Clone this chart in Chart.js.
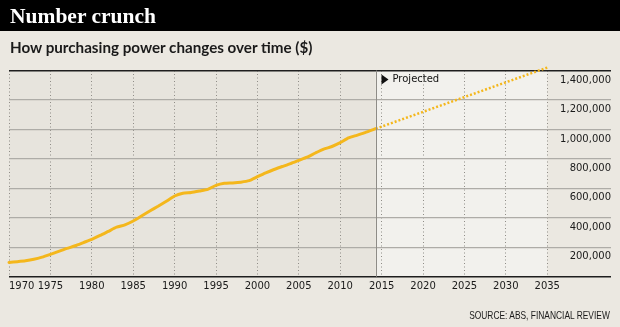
<!DOCTYPE html>
<html>
<head>
<meta charset="utf-8">
<script src="https://cdn.jsdelivr.net/npm/chart.js@4/dist/chart.umd.min.js"></script>
<style>
  html, body { margin: 0; padding: 0; background: #ebe8e1; }
  #wrap { position: relative; width: 620px; height: 327px; overflow: hidden; }
  #bar { position: absolute; left: 0; top: 0; width: 620px; height: 31px; background: #000; }
  #title { position: absolute; left: 10px; top: 4px; color: #fff;
           font: bold 21.5px "Liberation Serif", serif; }
  #subtitle { position: absolute; left: 10px; top: 38px; color: #1a1a1a;
              font: bold 15.2px Lato, sans-serif; }
  #source { position: absolute; right: 10px; top: 309px; color: #1a1a1a;
            font: 10.5px "Liberation Sans", sans-serif;
            transform: scaleX(0.8); transform-origin: right center; }
  canvas { position: absolute; left: 0; top: 0; }
</style>
</head>
<body>
<div id="wrap">
  <canvas id="c" width="620" height="327"></canvas>
  <div id="bar"></div>
  <div id="title">Number crunch</div>
  <div id="subtitle">How purchasing power changes over time ($)</div>
  <div id="source">SOURCE: ABS, FINANCIAL REVIEW</div>
</div>
<script>
// Recorded purchasing power, 1970 to mid-2014 ($)
const historyYears = [1970, 1971, 1972, 1973, 1974, 1975, 1976, 1977, 1978, 1979,
  1980, 1981, 1982, 1983, 1984, 1985, 1986, 1987, 1988, 1989,
  1990, 1991, 1992, 1993, 1994, 1995, 1996, 1997, 1998, 1999,
  2000, 2001, 2002, 2003, 2004, 2005, 2006, 2007, 2008, 2009,
  2010, 2011, 2012, 2013, 2014.3];
const historyValues = [97000, 102000, 108000, 118000, 133000, 152000, 172000, 192000, 210000, 232000,
  254000, 280000, 308000, 336000, 352000, 378000, 412000, 446000, 478000, 512000,
  548000, 566000, 572000, 582000, 593000, 620000, 634000, 637000, 642000, 652000,
  679000, 705000, 728000, 748000, 768000, 790000, 812000, 840000, 866000, 884000,
  910000, 942000, 960000, 978000, 1005000];

// Projection out to 2035
const projectedYears = [2014.3, 2035];
const projectedValues = [1005000, 1420000];

// Axis settings
const firstYear = 1970;
const lastYear = 2035;
const yearStep = 5;
const valueMax = 1400000;
const valueStep = 200000;
const projectedLabel = 'Projected';

const toPoints = (xs, ys) => xs.map((x, i) => ({ x, y: ys[i] }));

// Shaded history / projection panels, divider and the "Projected" note
const panels = {
  id: 'panels',
  beforeDraw(chart) {
    const { ctx, chartArea: a, scales: { x } } = chart;
    const xStart = x.getPixelForValue(firstYear);
    const xSplit = x.getPixelForValue(projectedYears[0]);
    const xEnd = x.getPixelForValue(lastYear);
    ctx.save();
    ctx.fillStyle = '#e7e4dd';
    ctx.fillRect(xStart, a.top, xSplit - xStart, a.bottom - a.top);
    ctx.fillStyle = '#f2f1ed';
    ctx.fillRect(xSplit, a.top, xEnd - xSplit, a.bottom - a.top);
    ctx.restore();
  },
  afterDatasetsDraw(chart) {
    const { ctx, chartArea: a, scales: { x } } = chart;
    const xSplit = Math.round(x.getPixelForValue(projectedYears[0])) + 0.5;
    ctx.save();
    ctx.strokeStyle = '#8e8c87';
    ctx.lineWidth = 1;
    ctx.beginPath();
    ctx.moveTo(xSplit, a.top);
    ctx.lineTo(xSplit, a.bottom);
    ctx.stroke();
    const tx = xSplit + 5;
    const ty = a.top + 9;
    ctx.fillStyle = '#111';
    ctx.beginPath();
    ctx.moveTo(tx, ty - 5);
    ctx.lineTo(tx + 7, ty);
    ctx.lineTo(tx, ty + 5);
    ctx.closePath();
    ctx.fill();
    ctx.font = '10px "DejaVu Sans"';
    ctx.textBaseline = 'middle';
    ctx.fillText(projectedLabel, tx + 11, ty);
    ctx.restore();
  }
};

new Chart(document.getElementById('c'), {
  type: 'line',
  data: {
    datasets: [
      {
        data: toPoints(historyYears, historyValues),
        borderColor: '#f4b71c',
        borderWidth: 3,
        pointRadius: 0,
        tension: 0.2,
        borderCapStyle: 'round',
        borderJoinStyle: 'round',
        clip: false
      },
      {
        data: toPoints(projectedYears, projectedValues),
        borderColor: '#f4b71c',
        borderWidth: 2.5,
        borderDash: [2, 2],
        pointRadius: 0,
        clip: false
      }
    ]
  },
  options: {
    responsive: false,
    animation: false,
    events: [],
    layout: { padding: { left: 9, right: 9, top: 70.5, bottom: 0 } },
    plugins: { legend: { display: false }, tooltip: { enabled: false } },
    scales: {
      x: {
        type: 'linear',
        min: firstYear,
        max: 2042.7,
        afterBuildTicks(scale) {
          const t = [];
          for (let y = firstYear; y <= lastYear + yearStep; y += yearStep) t.push({ value: y });
          scale.ticks = t;
        },
        afterFit(scale) { scale.height = 50.3; scale.paddingLeft = 0; scale.paddingRight = 0; },
        ticks: {
          align: 'inner',
          padding: 4,
          maxRotation: 0,
          autoSkip: false,
          color: '#1a1a1a',
          font: { family: 'DejaVu Sans', size: 10 },
          callback: v => (v <= lastYear ? String(v) : '')
        },
        grid: {
          drawTicks: false,
          color: ctx => (ctx.tick && ctx.tick.value <= lastYear ? '#8f8c86' : 'rgba(0,0,0,0)'),
          lineWidth: 1
        },
        border: { display: false, dash: [1, 2.5] }
      },
      y: {
        position: 'right',
        min: 0,
        max: valueMax,
        afterFit(scale) { scale.width = 0; },
        ticks: {
          stepSize: valueStep,
          mirror: true,
          padding: 0,
          crossAlign: 'near',
          labelOffset: 9.5,
          color: '#1a1a1a',
          font: { family: 'DejaVu Sans', size: 10 },
          callback: v => (v === 0 ? '' : v.toLocaleString('en-US'))
        },
        grid: {
          drawTicks: false,
          color: ctx => (ctx.tick && (ctx.tick.value === 0 || ctx.tick.value === valueMax) ? '#1e1e1e' : '#aeaca7'),
          lineWidth: ctx => (ctx.tick && (ctx.tick.value === 0 || ctx.tick.value === valueMax) ? 1.5 : 1.2)
        },
        border: { display: false }
      }
    }
  },
  plugins: [panels]
});
</script>
</body>
</html>
